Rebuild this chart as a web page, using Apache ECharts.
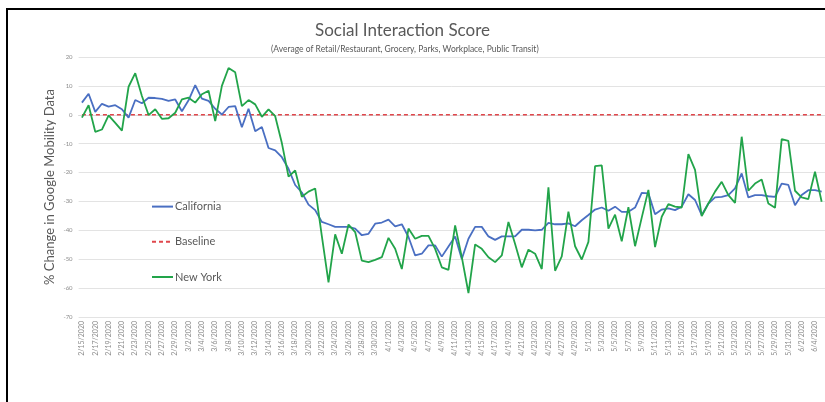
<!DOCTYPE html>
<html>
<head>
<meta charset="utf-8">
<script src="https://cdn.jsdelivr.net/npm/echarts@6/dist/echarts.min.js"></script>
<style>
  html, body { margin: 0; padding: 0; background: #fff; }
  #chartContainer { width: 825px; height: 402px; }
</style>
</head>
<body>
<div id="chartContainer"></div>
<script>
// daily dates, 2/15/2020 .. 6/5/2020
var dates = [
    '2/15/2020','2/16/2020','2/17/2020','2/18/2020','2/19/2020','2/20/2020','2/21/2020','2/22/2020',
    '2/23/2020','2/24/2020','2/25/2020','2/26/2020','2/27/2020','2/28/2020','2/29/2020',
    '3/1/2020','3/2/2020','3/3/2020','3/4/2020','3/5/2020','3/6/2020','3/7/2020','3/8/2020',
    '3/9/2020','3/10/2020','3/11/2020','3/12/2020','3/13/2020','3/14/2020','3/15/2020','3/16/2020',
    '3/17/2020','3/18/2020','3/19/2020','3/20/2020','3/21/2020','3/22/2020','3/23/2020','3/24/2020',
    '3/25/2020','3/26/2020','3/27/2020','3/28/2020','3/29/2020','3/30/2020','3/31/2020',
    '4/1/2020','4/2/2020','4/3/2020','4/4/2020','4/5/2020','4/6/2020','4/7/2020','4/8/2020',
    '4/9/2020','4/10/2020','4/11/2020','4/12/2020','4/13/2020','4/14/2020','4/15/2020','4/16/2020',
    '4/17/2020','4/18/2020','4/19/2020','4/20/2020','4/21/2020','4/22/2020','4/23/2020','4/24/2020',
    '4/25/2020','4/26/2020','4/27/2020','4/28/2020','4/29/2020','4/30/2020',
    '5/1/2020','5/2/2020','5/3/2020','5/4/2020','5/5/2020','5/6/2020','5/7/2020','5/8/2020',
    '5/9/2020','5/10/2020','5/11/2020','5/12/2020','5/13/2020','5/14/2020','5/15/2020','5/16/2020',
    '5/17/2020','5/18/2020','5/19/2020','5/20/2020','5/21/2020','5/22/2020','5/23/2020','5/24/2020',
    '5/25/2020','5/26/2020','5/27/2020','5/28/2020','5/29/2020','5/30/2020','5/31/2020',
    '6/1/2020','6/2/2020','6/3/2020','6/4/2020','6/5/2020'
];

var california = [
    4.2, 7.3, 1, 3.8, 2.8, 3.3, 1.9, -1, 5.1, 4,
    5.9, 5.8, 5.5, 4.8, 5.3, 1.2, 5, 10.3, 5.6, 4.8,
    2.1, 0.1, 2.7, 3, -4.3, 2.1, -5.7, -4.2, -11.5, -12.3,
    -14.7, -18.7, -24.3, -26.9, -31.1, -33, -37.1, -37.9, -38.8, -38.8,
    -38.8, -39.4, -41.7, -41.2, -37.7, -37.3, -36.3, -38.6, -37.9, -42.3,
    -48.7, -48.1, -45.2, -45.2, -49.1, -45.6, -42.1, -49.9, -42.9, -38.8,
    -38.8, -42.1, -43.3, -42.1, -42.1, -42.1, -39.8, -39.8, -40, -39.8,
    -37.4, -37.9, -37.9, -37.6, -38.6, -36.5, -34.7, -32.8, -32.1, -33.2,
    -31.8, -33.6, -33.6, -32.1, -27, -27.2, -34.4, -32.8, -32.4, -33,
    -31.8, -27.5, -29.5, -34.7, -30.7, -28.6, -28.4, -27.8, -25.5, -20.3,
    -28.6, -27.8, -27.8, -28.2, -28.4, -23.8, -24.3, -31.3, -27.8, -26.1,
    -26.1, -26.6
];

var newYork = [
    -1, 3.3, -5.9, -5.1, -0.2, -2.8, -5.5, 9.7, 14.4, 6.5,
    -0.1, 1.9, -1.4, -1.2, 0.7, 5.3, 5.9, 4.2, 7.1, 8.3,
    -2.2, 10, 16.2, 14.7, 3, 5.1, 3.6, -0.7, 1.9, -0.5,
    -9.8, -21.4, -19.3, -28.4, -26.6, -25.5, -42, -58, -41.4, -48.1,
    -38, -40.6, -50.5, -51, -50.2, -49.3, -42.6, -46.4, -53.4, -39.4,
    -42.9, -41.9, -41.9, -46.4, -52.8, -53.7, -38.3, -49.3, -61.7, -44.9,
    -46.4, -49.3, -51, -48.7, -37.1, -44.7, -52.8, -46.7, -48.1, -53.4,
    -25.1, -54, -49, -33.5, -45.5, -50.1, -44, -17.8, -17.5, -39.4,
    -34.6, -43.8, -32, -45.5, -35.6, -26, -45.8, -35.3, -30.9, -31.8,
    -32.1, -13.6, -19.1, -35.1, -30.7, -26.6, -23.2, -27.8, -30.5, -7.6,
    -26.3, -23.8, -22.4, -30.7, -32.2, -8.4, -9, -26.3, -28.6, -29.2,
    -19.7, -30.1
];

var baseline = dates.map(function () { return 0; });

var FONT = 'Lato, "Open Sans", sans-serif';

var chart = echarts.init(document.getElementById('chartContainer'));
var option = {
    animation: false,
    backgroundColor: '#fff',
    title: [{
        text: 'Social Interaction Score',
        left: 310,
        top: 17,
        textStyle: { fontFamily: FONT, fontSize: 17, fontWeight: 'normal', color: '#595959' }
    }, {
        text: '(Average of Retail/Restaurant, Grocery, Parks, Workplace, Public Transit)',
        left: 266,
        top: 40,
        textStyle: { fontFamily: FONT, fontSize: 8.5, fontWeight: 'normal', color: '#595959' }
    }],
    graphic: [{
        type: 'rect',
        shape: { x: 7, y: 9, width: 900, height: 500 },
        style: { fill: 'none', stroke: '#000', lineWidth: 2 },
        silent: true
    }],
    legend: {
        orient: 'vertical',
        left: 146,
        top: 196,
        itemGap: 24,
        itemWidth: 21,
        itemHeight: 14,
        itemStyle: { opacity: 0 },
        textStyle: { fontFamily: FONT, fontSize: 11, color: '#595959', padding: [0, 0, 0, -3] },
        data: ['California', 'Baseline', 'New York']
    },
    grid: { left: 78.6, top: 57, width: 749.3, height: 260, containLabel: false },
    xAxis: {
        type: 'category',
        data: dates,
        boundaryGap: true,
        axisLine: { lineStyle: { color: '#d9d9d9' } },
        axisTick: { show: false },
        axisLabel: {
            interval: 1,
            rotate: 90,
            fontSize: 7,
            margin: 4,
            color: '#8c8c8c',
            fontFamily: FONT
        }
    },
    yAxis: {
        type: 'value',
        min: -70,
        max: 20,
        interval: 10,
        name: '% Change in Google Mobility Data',
        nameLocation: 'middle',
        nameGap: 22,
        nameMoveOverlap: false,
        nameTextStyle: { fontFamily: FONT, fontSize: 13, color: '#595959' },
        axisLine: { show: false },
        axisTick: { show: false },
        axisLabel: { fontSize: 6, color: '#8c8c8c', margin: 6, fontFamily: FONT },
        splitLine: { lineStyle: { color: '#e3e3e3', width: 1 } }
    },
    series: [
        {
            name: 'California',
            type: 'line',
            data: california,
            symbol: 'none',
            lineStyle: { color: '#4a6fc2', width: 1.8 },
            itemStyle: { color: '#4a6fc2' },
            z: 2
        },
        {
            name: 'Baseline',
            type: 'line',
            data: baseline,
            symbol: 'none',
            lineStyle: { color: '#e0474c', width: 1.5, type: [4, 3] },
            itemStyle: { color: '#e0474c' },
            z: 1
        },
        {
            name: 'New York',
            type: 'line',
            data: newYork,
            symbol: 'none',
            lineStyle: { color: '#22a44a', width: 1.8 },
            itemStyle: { color: '#22a44a' },
            z: 3
        }
    ]
};
chart.setOption(option);
</script>
</body>
</html>
